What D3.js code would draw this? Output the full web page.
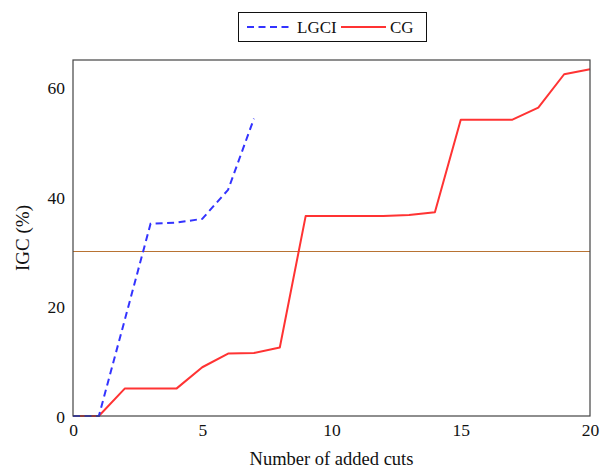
<!DOCTYPE html>
<html>
<head>
<meta charset="utf-8">
<script src="https://cdn.jsdelivr.net/npm/d3@7"></script>
<style>
  html, body { margin: 0; padding: 0; background: #fff; }
  svg { display: block; }
  text { font-family: "Liberation Serif", "DejaVu Serif", serif; fill: #111; }
</style>
</head>
<body>
<svg id="chart" width="600" height="468"></svg>
<script>
// Number of added cuts (x) and IGC percentage for each method
const cutsLGCI = [0, 1, 2, 3, 4, 5, 6, 7];
const igcLGCI  = [0, 0, 17.5, 35.1, 35.3, 36.0, 41.3, 54.3];

const cutsCG = [0, 1, 2, 3, 4, 5, 6, 7, 8, 9, 10, 11, 12, 13, 14, 15, 16, 17, 18, 19, 20];
const igcCG  = [0, 0, 5.0, 5.0, 5.0, 8.9, 11.4, 11.5, 12.5, 36.5, 36.5, 36.5, 36.5, 36.7, 37.2, 54.1, 54.1, 54.1, 56.3, 62.4, 63.3];

const xTicks = [0, 5, 10, 15, 20];
const yTicks = [0, 20, 40, 60];
const threshold = 30;

const seriesNames = ["LGCI", "CG"];

const svg = d3.select("#chart");
const margin = { left: 73, right: 10, top: 60, bottom: 52 };
const W = 600, H = 468;
const x = d3.scaleLinear().domain([0, 20]).range([margin.left, W - margin.right]);
const y = d3.scaleLinear().domain([0, 65]).range([H - margin.bottom, margin.top]);

// Axes without tick marks, labels only
const xAxis = d3.axisBottom(x).tickValues(xTicks).tickSize(0).tickPadding(8);
const yAxis = d3.axisLeft(y).tickValues(yTicks).tickSize(0).tickPadding(8);

const gx = svg.append("g").attr("transform", `translate(0,${y(0)})`).call(xAxis);
const gy = svg.append("g").attr("transform", `translate(${x(0)},0)`).call(yAxis);
[gx, gy].forEach(g => {
  g.select(".domain").remove();
  g.selectAll("text").style("font-family", "'Liberation Serif', serif").style("font-size", "17.5px").attr("fill", "#111");
});
gy.selectAll("text").attr("dy", "0.35em");

// Threshold line
svg.append("line")
  .attr("x1", x(0)).attr("x2", x(20))
  .attr("y1", Math.floor(y(threshold)) + 0.5).attr("y2", Math.floor(y(threshold)) + 0.5)
  .attr("stroke", "#b87333").attr("stroke-width", 1);

const line = d3.line().x(d => x(d[0])).y(d => y(d[1]));

// CG (solid red)
svg.append("path")
  .datum(cutsCG.map((c, i) => [c, igcCG[i]]))
  .attr("d", line)
  .attr("fill", "none")
  .attr("stroke", "#ff3333")
  .attr("stroke-width", 2)
  .attr("stroke-linejoin", "round");

// LGCI (dashed blue)
svg.append("path")
  .datum(cutsLGCI.map((c, i) => [c, igcLGCI[i]]))
  .attr("d", line)
  .attr("fill", "none")
  .attr("stroke", "#3333ff")
  .attr("stroke-width", 2)
  .attr("stroke-dasharray", "7,4.5");

// Plot frame
svg.append("rect")
  .attr("x", x(0)).attr("y", y(65))
  .attr("width", x(20) - x(0)).attr("height", y(0) - y(65))
  .attr("fill", "none").attr("stroke", "#444").attr("stroke-width", 1.2);

// Axis titles
svg.append("text")
  .attr("x", (x(0) + x(20)) / 2).attr("y", 465)
  .attr("text-anchor", "middle").style("font-size", "18.5px")
  .text("Number of added cuts");
svg.append("text")
  .attr("transform", `translate(29,${(y(0) + y(65)) / 2}) rotate(-90)`)
  .attr("text-anchor", "middle").style("font-size", "19px")
  .text("IGC (%)");

// Legend
const legend = svg.append("g");
legend.append("rect")
  .attr("x", 238.5).attr("y", 12.5).attr("width", 188).attr("height", 29)
  .attr("fill", "#fff").attr("stroke", "#111").attr("stroke-width", 1);
legend.append("line")
  .attr("x1", 247).attr("x2", 292).attr("y1", 27).attr("y2", 27)
  .attr("stroke", "#3333ff").attr("stroke-width", 2).attr("stroke-dasharray", "7,4.5");
legend.append("text").attr("x", 297).attr("y", 32.5).style("font-size", "17px").text(seriesNames[0]);
legend.append("line")
  .attr("x1", 341).attr("x2", 386).attr("y1", 27).attr("y2", 27)
  .attr("stroke", "#ff3333").attr("stroke-width", 2);
legend.append("text").attr("x", 390).attr("y", 32.5).style("font-size", "17px").text(seriesNames[1]);
</script>
</body>
</html>
